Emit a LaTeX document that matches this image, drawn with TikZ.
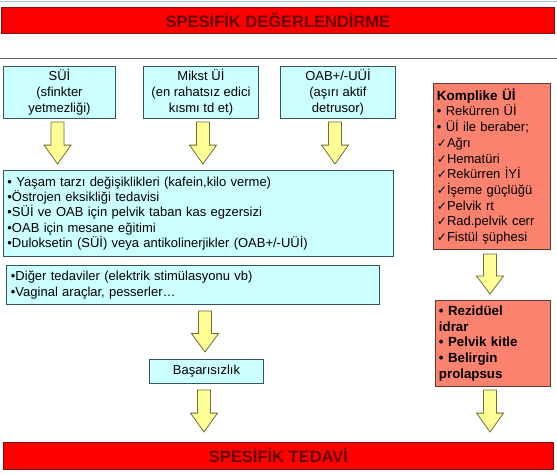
\documentclass[tikz,border=0pt]{standalone}
\usepackage{fontspec}
\setmainfont{Liberation Sans}
\newfontfamily\symfont{DejaVu Sans}
\usetikzlibrary{calc}
\definecolor{cyanfill}{RGB}{204,255,255}
\definecolor{cyanline}{RGB}{50,85,90}
\definecolor{salmonfill}{RGB}{250,130,110}
\definecolor{salmonline}{RGB}{90,60,50}
\definecolor{barred}{RGB}{255,0,0}
\definecolor{barline}{RGB}{120,20,20}
\definecolor{bartext}{RGB}{100,0,0}
\definecolor{arrfill}{RGB}{255,255,150}
\definecolor{arrline}{RGB}{110,110,60}
\definecolor{rulegray}{RGB}{100,100,100}
\definecolor{topline}{RGB}{175,192,205}
\newcommand\chk{{\symfont\fontsize{12}{10}\selectfont ✓}}
\newcommand\yarr[2]{%
  \draw[yarrowstyle] let \p1=(#1), \p2=(#2), \p3=($(#1)!0.55!(#2)$) in
  (\x1-6.5pt,\y1) -- (\x1+6.5pt,\y1) -- (\x1+6.5pt,\y3) -- (\x1+13.5pt,\y3)
  -- (\x1,\y2) -- (\x1-13.5pt,\y3) -- (\x1-6.5pt,\y3) -- cycle;}
\tikzset{
  cyanbox/.style={draw=cyanline, fill=cyanfill, line width=0.9pt, anchor=north west,
    inner sep=0pt, font=\fontsize{13}{16}\selectfont},
  salmonbox/.style={draw=salmonline, fill=salmonfill, line width=0.9pt, anchor=north west,
    inner sep=0pt, font=\fontsize{13}{15.7}\selectfont},
  redbar/.style={draw=barline, fill=barred, line width=0.9pt, anchor=north west,
    inner sep=0pt, text=bartext, font=\fontsize{16.5}{19}\selectfont\bfseries},
  yarrowstyle/.style={draw=arrline, fill=arrfill, line width=0.8pt, line join=miter}
}
\begin{document}
\begin{tikzpicture}[x=1pt,y=-1pt]
\useasboundingbox[fill=white] (0,0) rectangle (557,474);
% decorative rules
\coordinate (tl1) at (0,1); \coordinate (tl2) at (557,1);
\draw[topline, line width=1pt] (tl1) -- (tl2);
\coordinate (gl1) at (0,58.5); \coordinate (gl2) at (557,58.5);
\draw[rulegray, line width=1.6pt] (gl1) -- (gl2);
% red bars
\node[redbar, minimum width=553pt, minimum height=26pt] (top) at (1,7) {SPESİFİK DEĞERLENDİRME};
\node[redbar, minimum width=550pt, minimum height=27pt] (bottom) at (3,442) {SPESİFİK TEDAVİ};
% top boxes
\node[cyanbox, minimum width=112pt, minimum height=52pt, align=center] (sui) at (3,66)
  {SÜİ\\(sfinkter\\yetmezliği)};
\node[cyanbox, minimum width=115pt, minimum height=52pt, align=center] (mikst) at (143,66)
  {Mikst Üİ\\(en rahatsız edici\\kısmı td et)};
\node[cyanbox, minimum width=115pt, minimum height=52pt, align=center] (oab) at (280,66)
  {OAB+/-UÜİ\\(aşırı aktif\\detrusor)};
% main treatment box
\node[cyanbox, minimum width=390pt, minimum height=86pt, text width=382pt, align=left,
  font=\fontsize{13}{15.3}\selectfont] (treat) at (3,170)
  {• Yaşam tarzı değişiklikleri (kafein,kilo verme)\\
   •Östrojen eksikliği tedavisi\\
   •SÜİ ve OAB için pelvik taban kas egzersizi\\
   •OAB için mesane eğitimi\\
   •Duloksetin (SÜİ) veya  antikolinerjikler (OAB+/-UÜİ)};
\node[cyanbox, minimum width=373pt, minimum height=39pt, text width=364pt, align=left] (other) at (6,265)
  {•Diğer tedaviler (elektrik stimülasyonu vb)\\
   •Vaginal araçlar, pesserler…};
\node[cyanbox, minimum width=114pt, minimum height=24pt, align=center] (fail) at (149,359)
  {Başarısızlık};
% right column
\node[salmonbox, minimum width=117pt, minimum height=166pt, text width=110pt, align=left] (komp) at (433,83)
  {{\fontsize{13.5}{15.7}\selectfont\bfseries Komplike Üİ}\\
   • Rekürren Üİ\\
   • Üİ ile beraber;\\
   \chk Ağrı\\
   \chk Hematüri\\
   \chk Rekürren İYİ\\
   \chk İşeme güçlüğü\\
   \chk Pelvik rt\\
   \chk Rad.pelvik cerr\\
   \chk Fistül şüphesi};
\node[salmonbox, minimum width=115pt, minimum height=86pt, text width=108pt, align=left,
  font=\fontsize{13.3}{15.8}\selectfont\bfseries] (rez) at (435,300)
  {• Rezidüel\\idrar\\• Pelvik kitle\\• Belirgin\\prolapsus};
% block arrows
\coordinate (a1s) at (57.5,122); \coordinate (a1e) at (57.5,164);
\coordinate (a2s) at (203,122);  \coordinate (a2e) at (203,164);
\coordinate (a3s) at (335,122);  \coordinate (a3e) at (335,164);
\coordinate (a4s) at (205,311);  \coordinate (a4e) at (205,352);
\coordinate (a5s) at (204,390);  \coordinate (a5e) at (204,432);
\coordinate (a6s) at (490,254);  \coordinate (a6e) at (490,294);
\coordinate (a7s) at (490,390);  \coordinate (a7e) at (490,432);
\yarr{a1s}{a1e}
\yarr{a2s}{a2e}
\yarr{a3s}{a3e}
\yarr{a4s}{a4e}
\yarr{a5s}{a5e}
\yarr{a6s}{a6e}
\yarr{a7s}{a7e}
\end{tikzpicture}
\end{document}
